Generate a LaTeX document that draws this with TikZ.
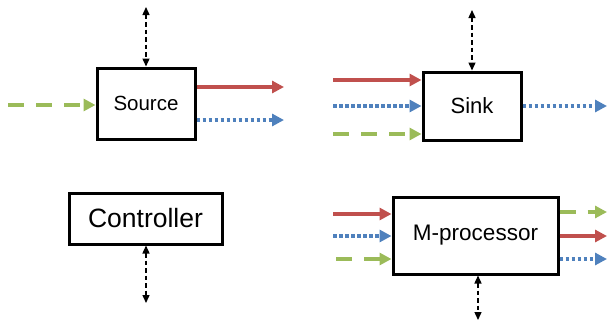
\documentclass[tikz,border=0pt]{standalone}
\usepackage{fontspec}
\setmainfont{Liberation Sans}
\usetikzlibrary{arrows.meta}
\definecolor{cred}{HTML}{C0504D}
\definecolor{cblue}{HTML}{4F81BD}
\definecolor{cgreen}{HTML}{9BBB59}
\tikzset{
  box/.style={draw=black, line width=3pt, fill=white, inner sep=0pt},
  tipc/.style={-{Triangle[length=12pt,width=12pt]}},
  redflow/.style={draw=cred, line width=3.5pt, tipc},
  blueflow/.style={draw=cblue, line width=3.5pt, dash pattern=on 3.5pt off 2.5pt, tipc},
  greenflow/.style={draw=cgreen, line width=3.5pt, dash pattern=on 16pt off 12pt, tipc},
  ctrl/.style={draw=black, line width=1.4pt, dash pattern=on 4.5pt off 3pt, {Triangle[length=8pt,width=7pt]}-{Triangle[length=8pt,width=7pt]}}
}
\begin{document}
\begin{tikzpicture}[x=1pt,y=-1pt]
\useasboundingbox (0,0) rectangle (607,325);
% boxes
\node[box, minimum width=98pt, minimum height=71pt, font=\fontsize{20.5}{24}\selectfont] (src) at (146,103.5) {Source};
\node[box, minimum width=98pt, minimum height=68pt, font=\fontsize{22}{26}\selectfont] (sink) at (472,106) {Sink};
\node[box, minimum width=153pt, minimum height=51pt, font=\fontsize{26.5}{30}\selectfont] (ctl) at (145.5,218.5) {Controller};
\node[box, minimum width=165pt, minimum height=77pt, font=\fontsize{22.5}{26}\selectfont] (mp) at (475.5,235.5) {M-processor};
% free ends
\coordinate (srcTop) at (146,7);
\coordinate (srcR) at (284,87);
\coordinate (srcB) at (284,120);
\coordinate (srcG) at (8,105);
\coordinate (sinkTop) at (472,10);
\coordinate (sinkR) at (333,80);
\coordinate (sinkB) at (333,106);
\coordinate (sinkG) at (333,134);
\coordinate (sinkBo) at (607,106);
\coordinate (ctlBot) at (146,303);
\coordinate (mpR) at (333,214);
\coordinate (mpB) at (333,236);
\coordinate (mpG) at (336,259);
\coordinate (mpGo) at (607,212);
\coordinate (mpRo) at (607,236);
\coordinate (mpBo) at (607,259);
\coordinate (mpBot) at (478,320);
% source
\draw[ctrl] (srcTop) -- (src.north);
\draw[redflow] (src.east |- srcR) -- (srcR);
\draw[blueflow] (src.east |- srcB) -- (srcB);
\draw[greenflow] (srcG) -- (src.west |- srcG);
% sink
\draw[ctrl] (sinkTop) -- (sink.north);
\draw[redflow] (sinkR) -- (sink.west |- sinkR);
\draw[blueflow] (sinkB) -- (sink.west |- sinkB);
\draw[greenflow] (sinkG) -- (sink.west |- sinkG);
\draw[blueflow] (sink.east |- sinkBo) -- (sinkBo);
% controller
\draw[ctrl] (ctl.south -| ctlBot) -- (ctlBot);
% m-processor
\draw[redflow] (mpR) -- (mp.west |- mpR);
\draw[blueflow] (mpB) -- (mp.west |- mpB);
\draw[greenflow] (mpG) -- (mp.west |- mpG);
\draw[greenflow] (mp.east |- mpGo) -- (mpGo);
\draw[redflow] (mp.east |- mpRo) -- (mpRo);
\draw[blueflow] (mp.east |- mpBo) -- (mpBo);
\draw[ctrl] (mp.south -| mpBot) -- (mpBot);
\end{tikzpicture}
\end{document}
